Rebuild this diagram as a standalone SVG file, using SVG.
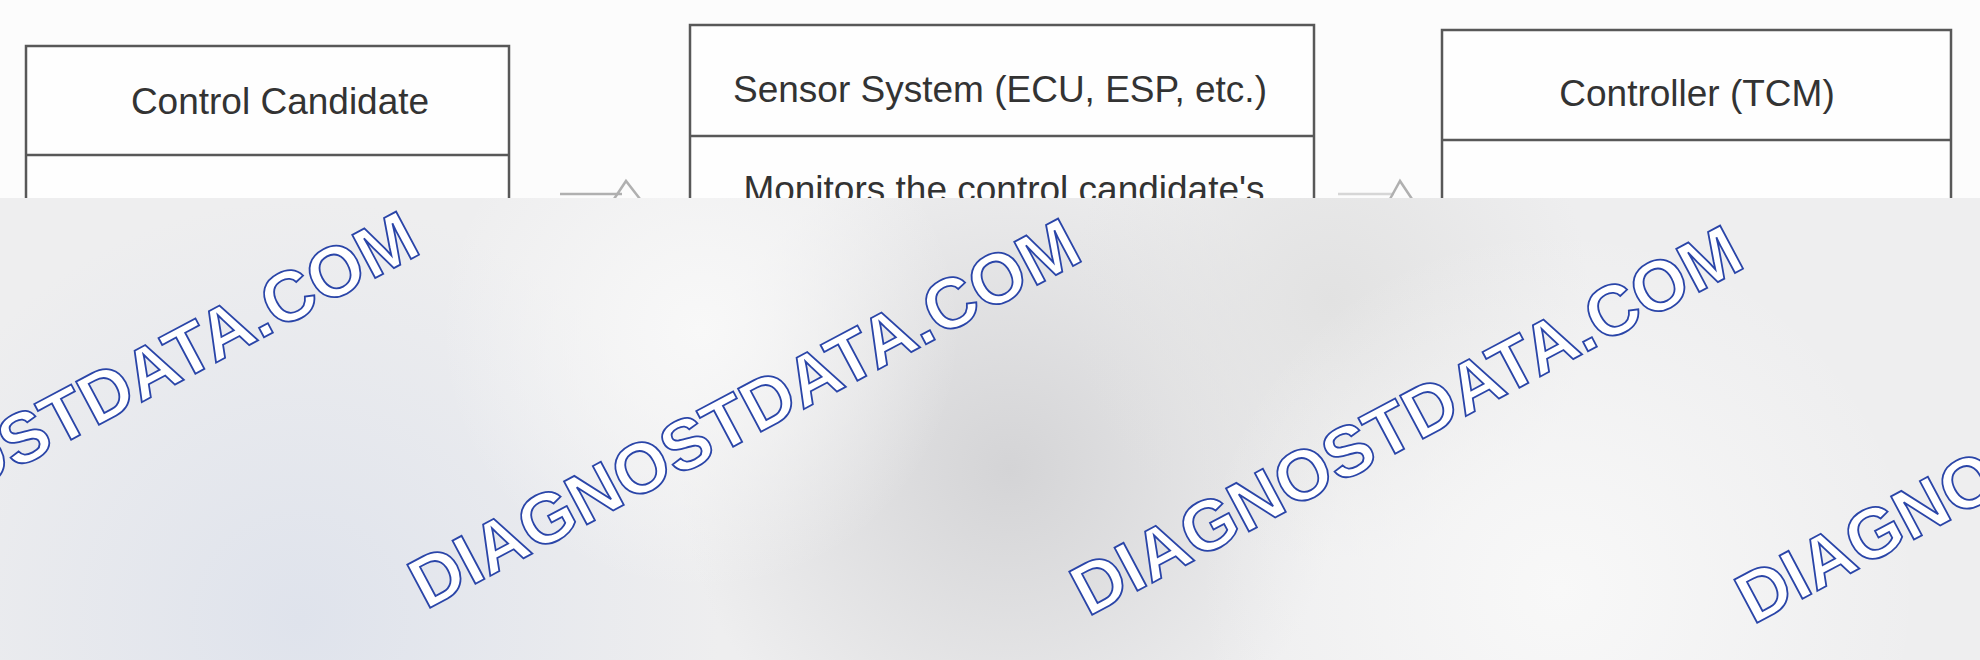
<svg xmlns="http://www.w3.org/2000/svg" width="1980" height="660" viewBox="0 0 1980 660">
<defs>
<style>
.box{fill:#fefefe;stroke:#585858;stroke-width:2.5}
.div{stroke:#585858;stroke-width:2.5}
.t{font-family:"Liberation Sans",Arial,sans-serif;font-size:37px;fill:#333;text-anchor:middle}
.conn{fill:none;stroke:#b0b0b0;stroke-width:2.5}
.wm{font-family:"Liberation Sans",Arial,sans-serif;font-size:71px;font-weight:bold;fill:#ffffff;stroke:#2a45a8;stroke-width:1.8}
</style>
<radialGradient id="gDark" cx="1010" cy="470" r="330" gradientUnits="userSpaceOnUse">
<stop offset="0" stop-color="#d4d4d6" stop-opacity="1"/>
<stop offset="1" stop-color="#d4d4d6" stop-opacity="0"/>
</radialGradient>
<radialGradient id="gBlue" cx="300" cy="620" r="420" gradientUnits="userSpaceOnUse">
<stop offset="0" stop-color="#dfe3ec" stop-opacity="1"/>
<stop offset="1" stop-color="#dfe3ec" stop-opacity="0"/>
</radialGradient>
<radialGradient id="gLight1" cx="700" cy="330" r="260" gradientUnits="userSpaceOnUse">
<stop offset="0" stop-color="#f8f8f8" stop-opacity="1"/>
<stop offset="1" stop-color="#f8f8f8" stop-opacity="0"/>
</radialGradient>
<radialGradient id="gLight2" cx="1560" cy="590" r="360" gradientUnits="userSpaceOnUse">
<stop offset="0" stop-color="#f8f8f8" stop-opacity="1"/>
<stop offset="1" stop-color="#f8f8f8" stop-opacity="0"/>
</radialGradient>
<radialGradient id="gDark2" cx="1330" cy="300" r="260" gradientUnits="userSpaceOnUse">
<stop offset="0" stop-color="#e2e2e2" stop-opacity="1"/>
<stop offset="1" stop-color="#e2e2e2" stop-opacity="0"/>
</radialGradient>
</defs>
<rect x="0" y="0" width="1980" height="660" fill="#fcfcfc"/>

<g id="node-control-candidate">
<rect class="box" x="26" y="46" width="483" height="400"/>
<line class="div" x1="26" y1="155" x2="509" y2="155"/>
<text class="t" x="280" y="114">Control Candidate</text>
</g>

<g id="node-sensor-system">
<rect class="box" x="690" y="25" width="624" height="400"/>
<line class="div" x1="690" y1="136" x2="1314" y2="136"/>
<text class="t" x="1000" y="102">Sensor System (ECU, ESP, etc.)</text>
<text class="t" x="1004" y="202">Monitors the control candidate's</text>
</g>

<g id="node-controller">
<rect class="box" x="1442" y="30" width="509" height="400"/>
<line class="div" x1="1442" y1="140" x2="1951" y2="140"/>
<text class="t" x="1697" y="106">Controller (TCM)</text>
</g>

<g id="connectors">
<path class="conn" d="M560 194 H622"/>
<path class="conn" d="M614 199 L626 181 L640 199"/>
<path class="conn" d="M1338 194 H1394" stroke-opacity="0.5"/>
<path class="conn" d="M1390 199 L1400 181 L1412 199"/>
</g>

<g id="overlay">
<rect x="0" y="198" width="1980" height="462" fill="#eeeeef"/>
<rect x="0" y="198" width="1980" height="462" fill="url(#gBlue)"/>
<rect x="0" y="198" width="1980" height="462" fill="url(#gDark)"/>
<rect x="0" y="198" width="1980" height="462" fill="url(#gDark2)"/>
<rect x="0" y="198" width="1980" height="462" fill="url(#gLight1)"/>
<rect x="0" y="198" width="1980" height="462" fill="url(#gLight2)"/>
<text class="wm" transform="translate(-236 603) rotate(-28)">DIAGNOSTDATA.COM</text>
<text class="wm" transform="translate(426 610) rotate(-28)">DIAGNOSTDATA.COM</text>
<text class="wm" transform="translate(1088 617) rotate(-28)">DIAGNOSTDATA.COM</text>
<text class="wm" transform="translate(1753 625) rotate(-28)">DIAGNOSTDATA.COM</text>
</g>
</svg>
